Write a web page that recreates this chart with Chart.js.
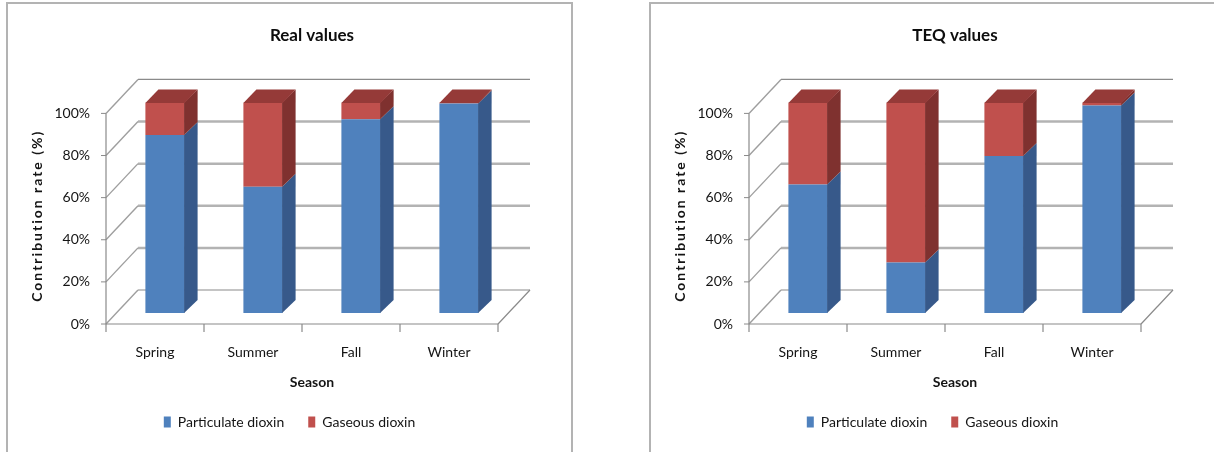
<!DOCTYPE html>
<html>
<head>
<meta charset="utf-8">
<title>Dioxin contribution rate by season</title>
<script src="https://cdn.jsdelivr.net/npm/chart.js@4.4.1/dist/chart.umd.min.js"></script>
<style>
  body { margin: 0; width: 1214px; height: 452px; overflow: hidden; background: #fff; }
  .panel { position: absolute; top: 2px; width: 563px; height: 470px; border: 2px solid #b3b3b3; }
  .panel canvas { display: block; }
</style>
</head>
<body>
<div class="panel" style="left:6px"><canvas id="real-chart" width="563" height="448"></canvas></div>
<div class="panel" style="left:649px"><canvas id="teq-chart" width="563" height="448"></canvas></div>
<script>
const seasons = ["Spring", "Summer", "Fall", "Winter"];
const yTicks = [0, 20, 40, 60, 80, 100];

// Real values, contribution rate (%)
const realParticulate = [84.5, 60, 92, 99.5];
const realGaseous = [15.5, 40, 8, 0.5];

// TEQ values, contribution rate (%)
const teqParticulate = [61, 24, 74.5, 98.5];
const teqGaseous = [39, 76, 25.5, 1.5];

const BLUE = { front: "#4F81BD", side: "#37598A", top: "#4674AB" };
const RED = { front: "#C0504D", side: "#7F312F", top: "#953A38" };

// oblique 3d offsets in px
const BAR_DEPTH = [13, -13];    // front face -> back face of a column
const FRONT_SHIFT = [-10, 11];  // column plane -> axis plane
const WALL_DEPTH = [32, -34];   // axis plane -> back wall

Chart.defaults.font.family = "Lato, 'Open Sans', sans-serif";
Chart.defaults.color = "#141414";

function strokeLine(ctx, x1, y1, x2, y2) {
  ctx.beginPath();
  ctx.moveTo(x1, y1);
  ctx.lineTo(x2, y2);
  ctx.stroke();
}

function fillQuad(ctx, pts) {
  ctx.beginPath();
  ctx.moveTo(pts[0][0], pts[0][1]);
  for (let i = 1; i < pts.length; i++) ctx.lineTo(pts[i][0], pts[i][1]);
  ctx.closePath();
  ctx.fill();
}

// walls, floor and the sides/tops of the columns
const chart3d = {
  id: "chart3d",
  beforeDatasetsDraw(chart) {
    const { ctx, chartArea: a, scales: { x, y } } = chart;
    const [fx, fy] = FRONT_SHIFT;
    const [wx, wy] = WALL_DEPTH;
    const left = a.left + fx, right = a.right + fx;
    const floorY = y.getPixelForValue(0) + fy;
    ctx.save();
    y.ticks.forEach(t => {
      const py = y.getPixelForValue(t.value) + fy;
      const edge = t.value === 0 || t.value === 100;
      // back wall
      ctx.strokeStyle = edge ? "#8a8a8a" : "#b3b3b3";
      ctx.lineWidth = edge ? 1.2 : 2.5;
      strokeLine(ctx, left + wx, py + wy, right + wx, py + wy);
      // side wall
      ctx.strokeStyle = "#9e9e9e";
      ctx.lineWidth = 1.4;
      strokeLine(ctx, left, py, left + wx, py + wy);
      // tick mark
      ctx.strokeStyle = "#8a8a8a";
      ctx.lineWidth = 1;
      strokeLine(ctx, left - 5, py, left, py);
    });
    ctx.strokeStyle = "#8a8a8a";
    ctx.lineWidth = 1.2;
    strokeLine(ctx, left, y.getPixelForValue(100) + fy, left, floorY);
    strokeLine(ctx, left, floorY, right, floorY);
    strokeLine(ctx, right, floorY, right + wx, floorY + wy);
    const half = (x.getPixelForValue(1) - x.getPixelForValue(0)) / 2;
    seasons.forEach((s, i) => {
      const px = x.getPixelForValue(i) - half + fx;
      strokeLine(ctx, px, floorY, px, floorY + 8);
    });
    strokeLine(ctx, right, floorY, right, floorY + 8);
    ctx.restore();
  },
  afterDatasetsDraw(chart) {
    const ctx = chart.ctx;
    const metas = chart.getSortedVisibleDatasetMetas();
    const [dx, dy] = BAR_DEPTH;
    ctx.save();
    seasons.forEach((s, i) => {
      metas.forEach((meta, k) => {
        const bar = meta.data[i];
        const shade = chart.data.datasets[meta.index].shade;
        const l = bar.x - bar.width / 2;
        const r = bar.x + bar.width / 2;
        const top = Math.min(bar.y, bar.base);
        const bottom = Math.max(bar.y, bar.base);
        ctx.fillStyle = shade.side;
        fillQuad(ctx, [[r - 0.5, bottom], [r - 0.5, top], [r + dx, top + dy], [r + dx, bottom + dy]]);
        if (k === metas.length - 1) {
          ctx.fillStyle = shade.top;
          fillQuad(ctx, [[l, top + 0.5], [l + dx, top + dy], [r + dx, top + dy], [r, top + 0.5]]);
        }
      });
    });
    ctx.restore();
  }
};

// the y title in the original is loosely spaced and sits a bit lower
const spacedTitle = {
  id: "spacedTitle",
  afterLayout(chart) {
    const s = chart.scales.y;
    if (s._spaced) return;
    const orig = s.drawTitle;
    s.drawTitle = function () {
      this.ctx.save();
      this.ctx.letterSpacing = "2px";
      this.ctx.translate(0, 8);
      orig.call(this);
      this.ctx.restore();
    };
    s._spaced = true;
  }
};

function makeChart(canvasId, title, particulate, gaseous) {
  return new Chart(document.getElementById(canvasId), {
    type: "bar",
    data: {
      labels: seasons,
      datasets: [
        { label: "Particulate dioxin", data: particulate, backgroundColor: BLUE.front, shade: BLUE, borderWidth: 0, barPercentage: 0.4, categoryPercentage: 1 },
        { label: "Gaseous dioxin", data: gaseous, backgroundColor: RED.front, shade: RED, borderWidth: 0, barPercentage: 0.4, categoryPercentage: 1 }
      ]
    },
    options: {
      responsive: false,
      animation: false,
      layout: { padding: { top: 0, right: 0, bottom: 13, left: 0 } },
      plugins: {
        title: {
          display: true,
          text: title,
          fullSize: false,
          color: "#0d0d0d",
          font: { size: 17, weight: "bold" },
          padding: { top: 21, bottom: 57 }
        },
        legend: {
          position: "bottom",
          labels: { boxWidth: 7, boxHeight: 11, padding: 24, font: { size: 14 } }
        },
        tooltip: { enabled: false }
      },
      scales: {
        x: {
          stacked: true,
          grid: { display: false, drawTicks: false },
          border: { display: false },
          ticks: { padding: 31, labelOffset: FRONT_SHIFT[0], font: { size: 14 } },
          title: { display: true, text: "Season", font: { size: 14, weight: "bold" }, padding: { top: 0, bottom: 0 } },
          afterFit: s => { s.height = 78; }
        },
        y: {
          stacked: true,
          min: 0,
          max: 100,
          afterBuildTicks: s => { s.ticks = yTicks.map(v => ({ value: v })); },
          grid: { display: false, drawTicks: false },
          border: { display: false },
          ticks: { padding: 26, labelOffset: FRONT_SHIFT[1], font: { size: 14 }, callback: v => v + "%" },
          title: { display: true, text: "Contribution rate (%)", font: { size: 14, weight: "bold" }, padding: { top: 21 } },
          afterFit: s => { s.width = 108; }
        },
        // empty axis on the right, keeps room for the back wall
        spacer: {
          type: "linear",
          position: "right",
          ticks: { display: false },
          grid: { display: false, drawTicks: false },
          border: { display: false },
          afterFit: s => { s.width = 63; }
        }
      }
    },
    plugins: [chart3d, spacedTitle]
  });
}

makeChart("real-chart", "Real values", realParticulate, realGaseous);
makeChart("teq-chart", "TEQ values", teqParticulate, teqGaseous);
</script>
</body>
</html>
